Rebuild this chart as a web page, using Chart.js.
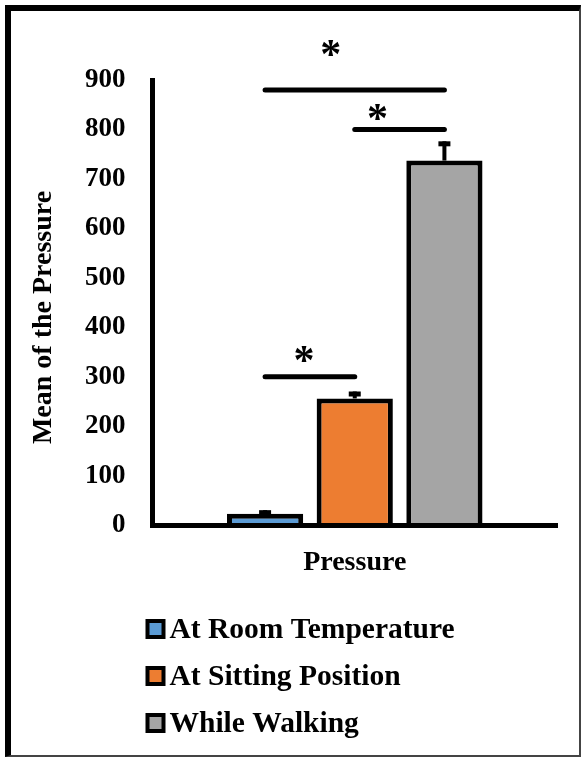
<!DOCTYPE html>
<html>
<head>
<meta charset="utf-8">
<title>Mean of the Pressure</title>
<script src="https://cdn.jsdelivr.net/npm/chart.js@4.4.0/dist/chart.umd.min.js"></script>
<style>
    html, body { margin: 0; padding: 0; background: #fff; }
    #wrap { position: relative; width: 582px; height: 760px; }
    #wrap canvas { position: absolute; left: 0; top: 0; }
    #frame {
        position: absolute; left: 5px; top: 5px; width: 568px; height: 744px;
        border-left: 6px solid #000; border-top: 6px solid #000;
        border-right: 2px solid #444; border-bottom: 2px solid #444;
        pointer-events: none;
    }
</style>
</head>
<body>
<div id="wrap">
    <canvas id="pressureChart" width="582" height="760"></canvas>
    <div id="frame"></div>
</div>
<script>
// data
const categories = ['Pressure'];
const seriesNames = ['At Room Temperature', 'At Sitting Position', 'While Walking'];
const meanValues = [23, 256, 737];
const errorValues = [7, 14, 39];
const yTickValues = [0, 100, 200, 300, 400, 500, 600, 700, 800, 900];

// significance brackets (series index pairs and the level of the line)
const bracketFrom = [0, 1, 0];
const bracketTo = [2, 2, 1];
const bracketLevels = [880, 800, 300];

const seriesColors = ['#5b9bd5', '#ed7d31', '#a5a5a5'];
const FONT = '"Liberation Serif", "Times New Roman", serif';

// error bars on top of each bar
const errorBarPlugin = {
    id: 'errorBars',
    afterDatasetsDraw(chart) {
        const ctx = chart.ctx;
        const y = chart.scales.y;
        ctx.save();
        ctx.strokeStyle = '#000';
        chart.data.datasets.forEach((ds, i) => {
            const bar = chart.getDatasetMeta(i).data[0];
            const tip = y.getPixelForValue(meanValues[i] + errorValues[i]);
            ctx.lineWidth = 4;
            ctx.beginPath();
            ctx.moveTo(bar.x, bar.y);
            ctx.lineTo(bar.x, tip);
            ctx.stroke();
            ctx.lineWidth = 5;
            ctx.beginPath();
            ctx.moveTo(bar.x - 6, tip + 2.5);
            ctx.lineTo(bar.x + 6, tip + 2.5);
            ctx.stroke();
        });
        ctx.restore();
    }
};

// lines with asterisks between compared bars
const bracketPlugin = {
    id: 'sigBrackets',
    afterDraw(chart, args, opts) {
        const ctx = chart.ctx;
        const y = chart.scales.y;
        ctx.save();
        ctx.strokeStyle = '#000';
        ctx.fillStyle = '#000';
        ctx.lineWidth = 5;
        ctx.lineCap = 'round';
        ctx.font = 'bold 42px ' + FONT;
        ctx.textAlign = 'center';
        ctx.textBaseline = 'alphabetic';
        const m = ctx.measureText('*');
        const mid = (m.actualBoundingBoxDescent - m.actualBoundingBoxAscent) / 2;
        bracketLevels.forEach((level, k) => {
            const x1 = chart.getDatasetMeta(bracketFrom[k]).data[0].x;
            const x2 = chart.getDatasetMeta(bracketTo[k]).data[0].x;
            const ly = y.getPixelForValue(level);
            ctx.beginPath();
            ctx.moveTo(x1, ly);
            ctx.lineTo(x2, ly);
            ctx.stroke();
            const sx = (x1 + x2) / 2 + opts.starDx[k];
            const sy = ly - opts.starDy[k];
            ctx.fillText('*', sx, sy - mid);
        });
        ctx.restore();
    }
};

// rotated y title, placed a bit lower than the axis middle like the original
const yTitlePlugin = {
    id: 'yTitle',
    afterDraw(chart, args, opts) {
        const ctx = chart.ctx;
        const area = chart.chartArea;
        ctx.save();
        ctx.translate(opts.x, (area.top + area.bottom) / 2 + opts.shift);
        ctx.rotate(-Math.PI / 2);
        ctx.fillStyle = '#000';
        ctx.font = 'bold 28px ' + FONT;
        ctx.textAlign = 'center';
        ctx.textBaseline = 'middle';
        ctx.fillText(opts.text, 0, 0);
        ctx.restore();
    }
};

// one legend entry per row, under the category label
const stackedLegendPlugin = {
    id: 'stackedLegend',
    afterDraw(chart, args, opts) {
        const ctx = chart.ctx;
        const top = chart.scales.x.bottom + opts.offsetY;
        const left = chart.chartArea.left + opts.offsetX;
        ctx.save();
        ctx.font = 'bold 29.5px ' + FONT;
        ctx.textBaseline = 'middle';
        ctx.textAlign = 'left';
        chart.data.datasets.forEach((ds, i) => {
            const cy = top + i * opts.rowGap;
            ctx.fillStyle = '#000';
            ctx.fillRect(left, cy - 10, 20, 20);
            ctx.fillStyle = ds.backgroundColor;
            ctx.fillRect(left + 4, cy - 6, 12, 12);
            ctx.fillStyle = '#000';
            ctx.fillText(ds.label, left + 24, cy + 1);
        });
        ctx.restore();
    }
};

const ctx = document.getElementById('pressureChart').getContext('2d');
new Chart(ctx, {
    type: 'bar',
    data: {
        labels: categories,
        datasets: seriesNames.map((name, i) => ({
            label: name,
            data: [meanValues[i]],
            backgroundColor: seriesColors[i],
            borderColor: '#000',
            borderWidth: 5,
            borderSkipped: 'start',
            categoryPercentage: 0.665,
            barPercentage: 0.85
        }))
    },
    options: {
        responsive: false,
        animation: false,
        layout: { padding: { left: 20, right: 25, top: 80, bottom: 175 } },
        plugins: {
            legend: { display: false },
            tooltip: { enabled: false },
            sigBrackets: { starDx: [-24, -22, -6], starDy: [42, 17, 23] },
            yTitle: { text: 'Mean of the Pressure', x: 44, shift: 15 },
            stackedLegend: { offsetX: -7, offsetY: 44, rowGap: 47 }
        },
        scales: {
            x: {
                grid: { display: false },
                border: { display: true, color: '#000', width: 5, z: 1 },
                ticks: { color: '#000', font: { family: FONT, size: 28, weight: 'bold' }, padding: 13 },
                afterFit: (scale) => { scale.height = 60; }
            },
            y: {
                min: 0,
                max: 900,
                afterBuildTicks: (scale) => { scale.ticks = yTickValues.map(v => ({ value: v })); },
                grid: { display: false },
                border: { display: true, color: '#000', width: 5 },
                ticks: { color: '#000', font: { family: FONT, size: 27, weight: 'bold' }, padding: 19 },
                afterFit: (scale) => { scale.width = 132.5; }
            }
        }
    },
    plugins: [errorBarPlugin, bracketPlugin, yTitlePlugin, stackedLegendPlugin]
});
</script>
</body>
</html>
